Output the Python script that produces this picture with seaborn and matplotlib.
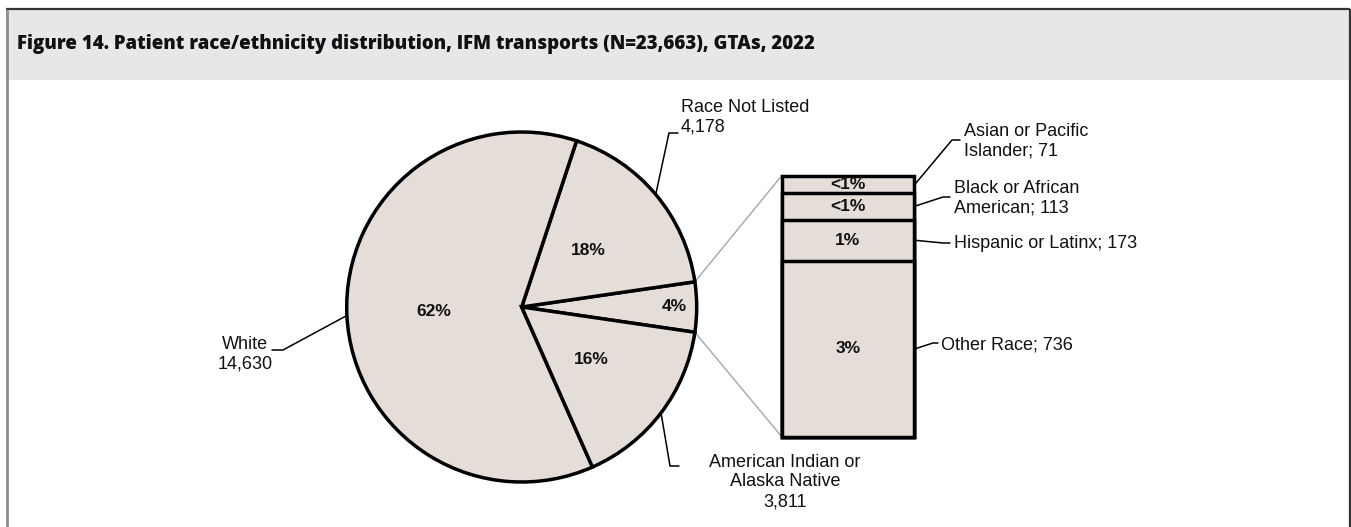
import numpy as np
import pandas as pd
import seaborn as sns
import matplotlib
matplotlib.use("Agg")
import matplotlib.pyplot as plt
from matplotlib.patches import Rectangle, ConnectionPatch

# ---------------- data ----------------
title = "Figure 14. Patient race/ethnicity distribution, IFM transports (N=23,663), GTAs, 2022"

pie_names = ["Other (grouped)", "Race Not Listed", "White", "American Indian or\nAlaska Native"]
pie_counts_main = [4178, 14630, 3811]          # Race Not Listed, White, AIAN
pie_pct_labels = ["4%", "18%", "62%", "16%"]
pie_value_labels = ["", "Race Not Listed\n4,178", "White\n14,630", "American Indian or\nAlaska Native\n3,811"]

bar_categories = ["Other Race", "Hispanic or Latinx", "Black or African American", "Asian or Pacific Islander"]
bar_counts = [736, 173, 113, 71]
bar_pct_labels = ["3%", "1%", "<1%", "<1%"]
bar_value_labels = ["Other Race; 736", "Hispanic or Latinx; 173",
                    "Black or African\nAmerican; 113", "Asian or Pacific\nIslander; 71"]

other_total = sum(bar_counts)
pie_values = [other_total] + pie_counts_main

# ---------------- style ----------------
sns.set_theme(style="white")
plt.rcParams['font.family'] = ['Liberation Sans', 'DejaVu Sans']

FILL = "#e5ddd8"
EDGE = "black"
LBL = 13
W, H = 1351, 527

fig = plt.figure(figsize=(W / 100, H / 100), dpi=100)
fig.patch.set_facecolor("white")

# overlay axes in pixel coordinates (top-left origin)
ov = fig.add_axes([0, 0, 1, 1], zorder=0)
ov.set_xlim(0, W)
ov.set_ylim(H, 0)
ov.axis("off")

# frame and title band
ov.add_patch(Rectangle((6, 9), 1343, 71, facecolor="#e6e7e8", edgecolor="none"))
ov.plot([6, 1350], [9, 9], color="#333333", lw=1.6, solid_capstyle="butt")
ov.plot([6.5, 6.5], [9, H], color="#8c8c8c", lw=2.0, solid_capstyle="butt")
ov.plot([1349.5, 1349.5], [9, H], color="#333333", lw=1.6, solid_capstyle="butt")
ov.text(17, 44, title, fontsize=13.4, fontweight="heavy", family=["Open Sans", "DejaVu Sans"],
        va="center", ha="left", color="#111111")

# ---------------- pie ----------------
cx, cy, r = 521.7, 307.0, 175.0
pax = fig.add_axes([(cx - r) / W, (H - cy - r) / H, 2 * r / W, 2 * r / H], zorder=2)
shares = np.array(pie_values) / np.sum(pie_values)
start = -shares[0] * 180.0
wedges, _ = pax.pie(pie_values, startangle=start, counterclock=True, radius=1,
                    colors=[FILL] * len(pie_values),
                    wedgeprops=dict(edgecolor=EDGE, linewidth=2.5))
pax.set_xlim(-1, 1)
pax.set_ylim(-1, 1)
pax.set_aspect("auto")
pax.axis("off")
for w in wedges:
    w.set_clip_on(False)

pct_dist = [0.87, 0.5, 0.5, 0.5]
mids = []
for i, w in enumerate(wedges):
    m = np.deg2rad((w.theta1 + w.theta2) / 2)
    mids.append(m)
    pax.text(pct_dist[i] * np.cos(m), pct_dist[i] * np.sin(m), pie_pct_labels[i],
             ha="center", va="center", fontsize=12.5, fontweight="bold",
             family=["Liberation Sans Narrow", "Liberation Sans"], color="#111111")

def edge_px(angle):
    return cx + r * np.cos(angle), cy - r * np.sin(angle)

# pie leaders (elbow, end, text pos, alignment)
pie_leaders = {
    1: ((669, 133), (678, 133), (681, 117), "left", "left"),
    2: ((283, 350), (272, 350), (245, 354), "center", "center"),
    3: ((670, 466), (679, 466), (785, 482), "center", "center"),
}
for i, (elbow, end, tpos, ha, ma) in pie_leaders.items():
    ex, ey = edge_px(mids[i])
    ov.plot([ex, elbow[0], end[0]], [ey, elbow[1], end[1]], color="black", lw=1.1)
    ov.text(tpos[0], tpos[1], pie_value_labels[i], ha=ha, va="center", fontsize=LBL,
            color="#111111", linespacing=1.2, multialignment=ma)

# ---------------- stacked bar ----------------
bx0, bx1, by0, by1 = 781.7, 914.0, 175.7, 436.7
bax = fig.add_axes([bx0 / W, (H - by1) / H, (bx1 - bx0) / W, (by1 - by0) / H], zorder=2)
cum = np.cumsum(bar_counts)
for k in range(len(cum) - 1, -1, -1):
    df = pd.DataFrame({"grp": ["other"], "value": [cum[k]]})
    sns.barplot(data=df, x="grp", y="value", color=FILL, saturation=1,
                edgecolor=EDGE, linewidth=2.5, ax=bax, width=0.8)
bax.set_xlim(-0.4, 0.4)
bax.set_ylim(0, other_total)
bax.axis("off")
for p in bax.patches:
    p.set_clip_on(False)

mid_vals = cum - np.array(bar_counts) / 2
for k, mv in enumerate(mid_vals):
    bax.text(0, mv, bar_pct_labels[k], ha="center", va="center", fontsize=12.5,
             fontweight="bold", family=["Liberation Sans Narrow", "Liberation Sans"],
             color="#111111")

def bar_px(val):
    return by1 - val / other_total * (by1 - by0)

bar_leaders = [
    ((933, 343), (938, 343), (941, 345)),
    ((943, 243), (950, 243), (954, 243)),
    ((943, 197), (950, 197), (954, 198)),
    ((952, 140), (960, 140), (964, 141)),
]
for k, (elbow, end, tpos) in enumerate(bar_leaders):
    sy = bar_px(mid_vals[k])
    ov.plot([bx1 + 1, elbow[0], end[0]], [sy, elbow[1], end[1]], color="black", lw=1.1)
    ov.text(tpos[0], tpos[1], bar_value_labels[k], ha="left", va="center", fontsize=LBL,
            color="#111111", linespacing=1.2)

# connectors pie -> bar
w0 = wedges[0]
for ang, yv in [(w0.theta2, other_total), (w0.theta1, 0)]:
    a = np.deg2rad(ang)
    con = ConnectionPatch(xyA=(np.cos(a), np.sin(a)), coordsA=pax.transData,
                          xyB=(-0.4, yv), coordsB=bax.transData,
                          color="#a6a6a6", lw=1.0, zorder=1)
    fig.add_artist(con)

fig.savefig("out.png", dpi=100)
